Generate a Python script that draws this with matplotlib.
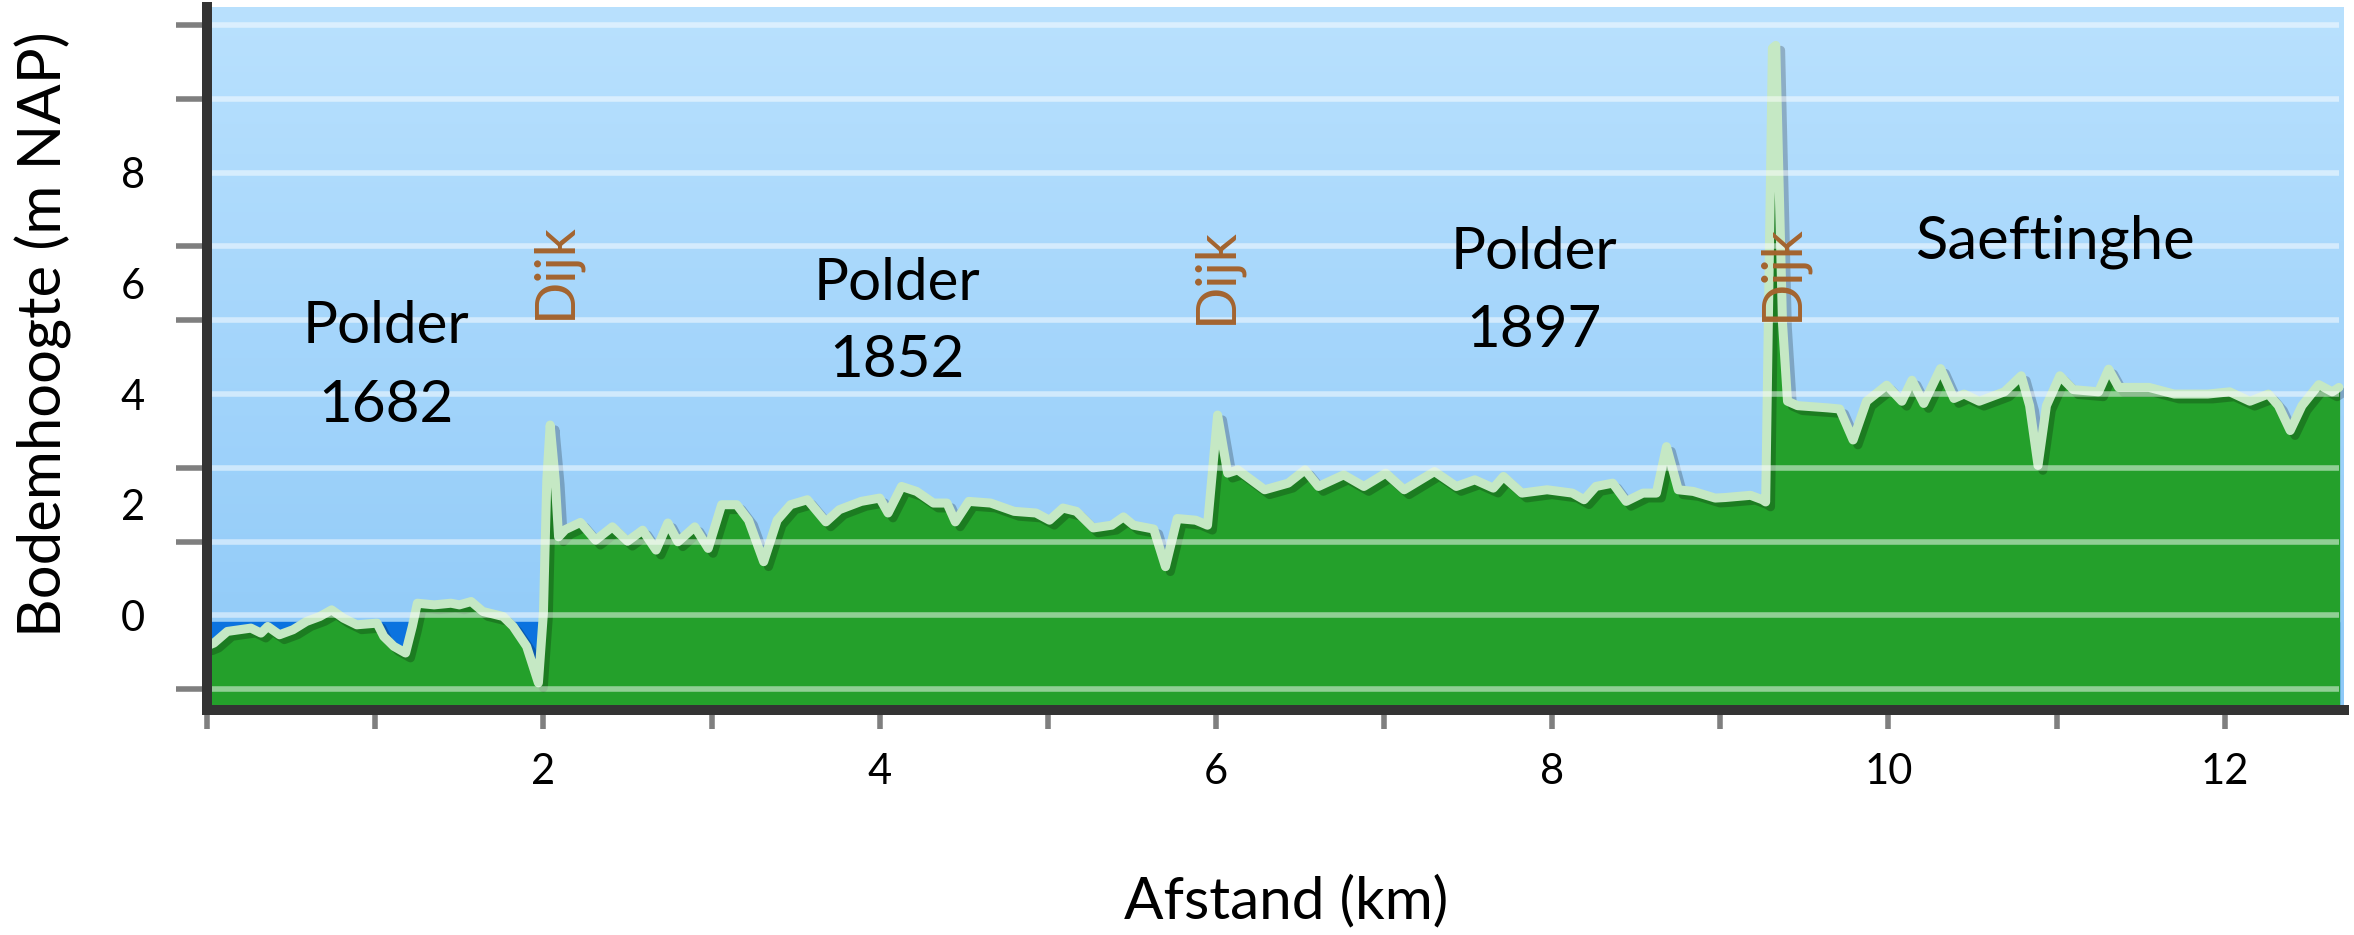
import numpy as np
import matplotlib
matplotlib.use("Agg")
import matplotlib.pyplot as plt
import matplotlib.patheffects as pe
from matplotlib.colors import LinearSegmentedColormap

# Bodemprofiel Saeftinghe: afstand (km) en hoogte (as-eenheden zoals op de figuur)
dist_km = [0.00, 0.04, 0.12, 0.26, 0.32, 0.36, 0.43, 0.51, 0.59, 0.67,
           0.74, 0.81, 0.89, 1.01, 1.05, 1.11, 1.18, 1.22, 1.25, 1.35,
           1.45, 1.50, 1.57, 1.64, 1.76, 1.82, 1.90, 1.97, 2.00, 2.02,
           2.04, 2.07, 2.09, 2.13, 2.22, 2.31, 2.41, 2.50, 2.59, 2.67,
           2.74, 2.80, 2.90, 2.98, 3.06, 3.15, 3.22, 3.31, 3.39, 3.47,
           3.57, 3.68, 3.76, 3.89, 4.00, 4.05, 4.13, 4.22, 4.32, 4.40,
           4.45, 4.53, 4.66, 4.80, 4.93, 5.01, 5.09, 5.17, 5.27, 5.38,
           5.45, 5.51, 5.63, 5.70, 5.77, 5.88, 5.95, 6.01, 6.07, 6.13,
           6.29, 6.43, 6.53, 6.61, 6.76, 6.88, 7.01, 7.12, 7.30, 7.43,
           7.54, 7.65, 7.71, 7.82, 7.97, 8.12, 8.19, 8.26, 8.36, 8.44,
           8.54, 8.62, 8.68, 8.75, 8.84, 8.97, 9.03, 9.18, 9.25, 9.27,
           9.31, 9.33, 9.37, 9.40, 9.46, 9.64, 9.71, 9.79, 9.87, 9.99,
           10.08, 10.14, 10.21, 10.31, 10.39, 10.45, 10.54, 10.69, 10.79, 10.84,
           10.89, 10.94, 11.02, 11.10, 11.25, 11.31, 11.37, 11.55, 11.70, 11.90,
           12.03, 12.15, 12.26, 12.32, 12.39, 12.46, 12.56, 12.64, 12.68]
height = [-0.55, -0.50, -0.29, -0.23, -0.32, -0.20, -0.35, -0.26, -0.11, -0.02,
          0.10, -0.05, -0.17, -0.14, -0.38, -0.56, -0.68, -0.20, 0.22, 0.19,
          0.22, 0.19, 0.25, 0.07, -0.02, -0.20, -0.56, -1.22, 0.05, 2.45,
          3.44, 2.45, 1.42, 1.55, 1.68, 1.36, 1.60, 1.34, 1.54, 1.18,
          1.67, 1.33, 1.60, 1.21, 2.00, 2.00, 1.72, 0.97, 1.72, 2.00,
          2.09, 1.69, 1.91, 2.06, 2.12, 1.85, 2.33, 2.24, 2.03, 2.03,
          1.69, 2.06, 2.03, 1.88, 1.85, 1.72, 1.94, 1.88, 1.58, 1.63,
          1.78, 1.63, 1.56, 0.88, 1.75, 1.72, 1.63, 3.62, 2.57, 2.63,
          2.27, 2.39, 2.63, 2.33, 2.54, 2.33, 2.57, 2.27, 2.60, 2.33,
          2.45, 2.30, 2.51, 2.21, 2.27, 2.21, 2.09, 2.33, 2.39, 2.06,
          2.21, 2.21, 3.05, 2.27, 2.24, 2.12, 2.13, 2.17, 2.09, 2.05,
          10.25, 10.30, 5.29, 3.87, 3.79, 3.75, 3.73, 3.17, 3.87, 4.16,
          3.87, 4.25, 3.83, 4.46, 3.92, 4.00, 3.87, 4.04, 4.33, 3.79,
          2.71, 3.79, 4.33, 4.08, 4.04, 4.45, 4.12, 4.12, 4.00, 4.00,
          4.04, 3.87, 4.00, 3.79, 3.34, 3.79, 4.17, 4.04, 4.12]
water_level = -0.12

y_tick_values = [0, 2, 4, 6, 8]
x_tick_values = list(range(13))
x_tick_labels = [str(v) if v > 0 and v % 2 == 0 else "" for v in x_tick_values]

plt.rcParams['font.family'] = ['Lato', 'DejaVu Sans']

fig = plt.figure(figsize=(23.54, 9.35), dpi=100)
ax = fig.add_axes([207.2 / 2354, 1 - 710 / 935, (2344 - 207.2) / 2354, (710 - 6.7) / 935])

x_max = 12.71
y_min, y_max = -1.71, 11.0
grid_levels = np.arange(-1, 9) * 4 / 3

# lucht als verloop
sky = LinearSegmentedColormap.from_list("sky", ["#8ec9f8", "#b9e1fe"])
ax.imshow(np.linspace(0, 1, 256).reshape(-1, 1), cmap=sky, origin="lower",
          extent=(0, 1, 0, 1), transform=ax.transAxes, aspect="auto", zorder=0)

ax.fill_between([0, dist_km[-1]], y_min, water_level, color="#0b73df", zorder=1)
ax.fill_between(dist_km, y_min, height, color="#24a02b", zorder=2)
ax.plot(dist_km, height, color="#c5e8c4", lw=6.5, solid_joinstyle="round",
        solid_capstyle="round", zorder=3,
        path_effects=[pe.SimpleLineShadow(offset=(3.5, -3.5), shadow_color="black", alpha=0.22),
                      pe.Normal()])
ax.hlines(grid_levels, 0, dist_km[-1], colors="white", lw=4, alpha=0.5, zorder=4)

ax.set_xlim(0, x_max)
ax.set_ylim(y_min, y_max)

ax.set_yticks(y_tick_values)
ax.set_yticks(grid_levels, minor=True)
ax.tick_params(axis="y", which="major", length=0, pad=45, labelsize=30)
ax.tick_params(axis="y", which="minor", length=22, width=4, color="#7f7f7f", direction="out")
ax.set_xticks(x_tick_values)
ax.set_xticklabels(x_tick_labels)
ax.tick_params(axis="x", length=14, width=4, color="#7f7f7f", pad=17, labelsize=30)

for side in ["top", "right"]:
    ax.spines[side].set_visible(False)
for side in ["left", "bottom"]:
    ax.spines[side].set_color("#333333")
    ax.spines[side].set_linewidth(7.2)
    ax.spines[side].set_zorder(10)

# gebiedsnamen
ax.text(1.064, 4.92, "Polder", ha="center", va="baseline", fontsize=42, zorder=6)
ax.text(1.064, 3.50, "1682", ha="center", va="baseline", fontsize=42, zorder=6)
ax.text(4.10, 5.70, "Polder", ha="center", va="baseline", fontsize=42, zorder=6)
ax.text(4.10, 4.31, "1852", ha="center", va="baseline", fontsize=42, zorder=6)
ax.text(7.89, 6.26, "Polder", ha="center", va="baseline", fontsize=42, zorder=6)
ax.text(7.89, 4.85, "1897", ha="center", va="baseline", fontsize=42, zorder=6)
ax.text(10.99, 6.45, "Saeftinghe", ha="center", va="baseline", fontsize=43, zorder=6)

for xd, yd in [(2.07, 6.24), (6.00, 6.15), (9.37, 6.19)]:
    ax.text(xd, yd, "Dijk", rotation=90, ha="center", va="center",
            color="#a3642f", fontsize=40, zorder=6)

fig.text(1286 / 2354, 1 - 902 / 935, "Afstand (km)", ha="center", va="center", fontsize=42)
fig.text(43 / 2354, 1 - 334 / 935, "Bodemhoogte (m NAP)", rotation=90,
         ha="center", va="center", fontsize=43)

fig.savefig("out.png", dpi=100)
